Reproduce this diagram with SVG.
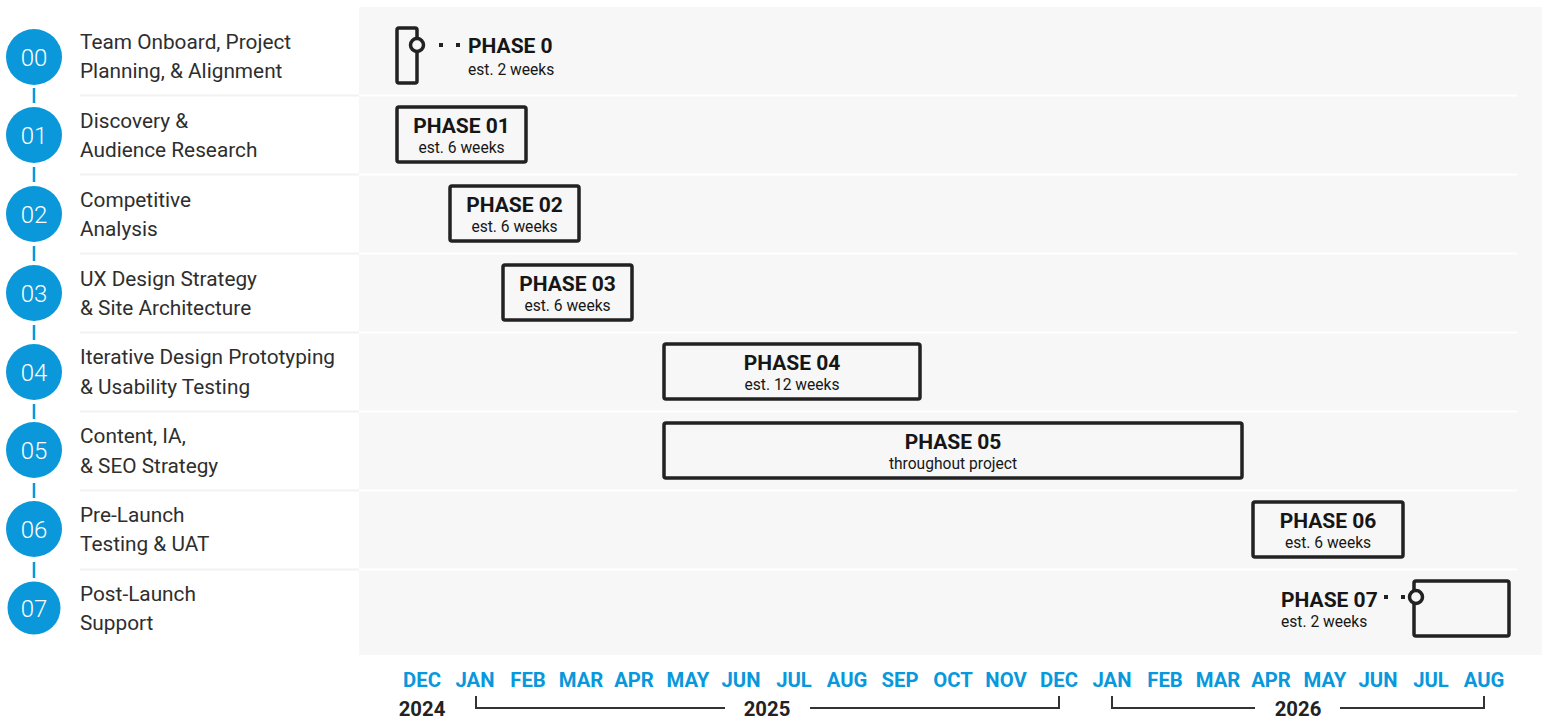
<svg xmlns="http://www.w3.org/2000/svg" width="1544" height="719" viewBox="0 0 1544 719">
  <style>
    .num { font-family: Roboto, "Liberation Sans", sans-serif; font-size: 24px; font-weight: 300; fill: #ffffff; text-anchor: middle; }
    .lbl { font-family: Roboto, "Liberation Sans", sans-serif; font-size: 20.8px; fill: #2e2e2e; }
    .dot { fill: #0a98da; }
    .link { stroke: #0a98da; stroke-width: 2.5; }
    .sep-l { stroke: #f2f2f2; stroke-width: 2; }
    .sep-r { stroke: #ffffff; stroke-width: 2; }
    .box { fill: #f7f7f7; stroke: #222222; stroke-width: 3.5; }
    .ph { font-family: Roboto, "Liberation Sans", sans-serif; font-size: 21px; font-weight: 700; fill: #161616; }
    .est { font-family: Roboto, "Liberation Sans", sans-serif; font-size: 15.6px; fill: #161616; }
    .mid { text-anchor: middle; }
    .ring { fill: #f7f7f7; stroke: #222222; stroke-width: 3.5; }
    .sq { fill: #222222; }
    .mon { font-family: Roboto, "Liberation Sans", sans-serif; font-size: 20.3px; font-weight: 700; fill: #0898dc; text-anchor: middle; }
    .yr { font-family: Roboto, "Liberation Sans", sans-serif; font-size: 20.3px; font-weight: 700; fill: #222222; text-anchor: middle; }
    .brk { fill: none; stroke: #333333; stroke-width: 2; }
  </style>

  <!-- chart panel -->
  <rect x="359" y="7" width="1183" height="648" fill="#f7f7f7"/>

  <!-- row separators -->
  <g id="separators">
    <line class="sep-l" x1="80" y1="95.5" x2="359" y2="95.5"/><line class="sep-r" x1="359" y1="95.5" x2="1517" y2="95.5"/>
    <line class="sep-l" x1="80" y1="174.5" x2="359" y2="174.5"/><line class="sep-r" x1="359" y1="174.5" x2="1517" y2="174.5"/>
    <line class="sep-l" x1="80" y1="253.5" x2="359" y2="253.5"/><line class="sep-r" x1="359" y1="253.5" x2="1517" y2="253.5"/>
    <line class="sep-l" x1="80" y1="332.5" x2="359" y2="332.5"/><line class="sep-r" x1="359" y1="332.5" x2="1517" y2="332.5"/>
    <line class="sep-l" x1="80" y1="411.5" x2="359" y2="411.5"/><line class="sep-r" x1="359" y1="411.5" x2="1517" y2="411.5"/>
    <line class="sep-l" x1="80" y1="490.5" x2="359" y2="490.5"/><line class="sep-r" x1="359" y1="490.5" x2="1517" y2="490.5"/>
    <line class="sep-l" x1="80" y1="569.5" x2="359" y2="569.5"/><line class="sep-r" x1="359" y1="569.5" x2="1517" y2="569.5"/>
  </g>

  <!-- step connectors -->
  <g id="connectors">
    <line class="link" x1="34" y1="88" x2="34" y2="103"/>
    <line class="link" x1="34" y1="167" x2="34" y2="182"/>
    <line class="link" x1="34" y1="246" x2="34" y2="261"/>
    <line class="link" x1="34" y1="325" x2="34" y2="340"/>
    <line class="link" x1="34" y1="404" x2="34" y2="419"/>
    <line class="link" x1="34" y1="483" x2="34" y2="498"/>
    <line class="link" x1="34" y1="562" x2="34" y2="578"/>
  </g>

  <!-- step list -->
  <g id="step-00"><circle class="dot" cx="34" cy="57" r="28"/><text class="num" x="34" y="65.5">00</text>
    <text class="lbl" x="80" y="49">Team Onboard, Project</text><text class="lbl" x="80" y="78">Planning, &amp; Alignment</text></g>
  <g id="step-01"><circle class="dot" cx="34" cy="135" r="28"/><text class="num" x="34" y="143.5">01</text>
    <text class="lbl" x="80" y="128">Discovery &amp;</text><text class="lbl" x="80" y="157">Audience Research</text></g>
  <g id="step-02"><circle class="dot" cx="34" cy="214" r="28"/><text class="num" x="34" y="222.5">02</text>
    <text class="lbl" x="80" y="207">Competitive</text><text class="lbl" x="80" y="236">Analysis</text></g>
  <g id="step-03"><circle class="dot" cx="34" cy="293" r="28"/><text class="num" x="34" y="301.5">03</text>
    <text class="lbl" x="80" y="286">UX Design Strategy</text><text class="lbl" x="80" y="315">&amp; Site Architecture</text></g>
  <g id="step-04"><circle class="dot" cx="34" cy="372" r="28"/><text class="num" x="34" y="380.5">04</text>
    <text class="lbl" x="80" y="364">Iterative Design Prototyping</text><text class="lbl" x="80" y="394">&amp; Usability Testing</text></g>
  <g id="step-05"><circle class="dot" cx="34" cy="450" r="28"/><text class="num" x="34" y="458.5">05</text>
    <text class="lbl" x="80" y="443">Content, IA,</text><text class="lbl" x="80" y="473">&amp; SEO Strategy</text></g>
  <g id="step-06"><circle class="dot" cx="34" cy="529" r="28"/><text class="num" x="34" y="537.5">06</text>
    <text class="lbl" x="80" y="522">Pre-Launch</text><text class="lbl" x="80" y="551">Testing &amp; UAT</text></g>
  <g id="step-07"><circle class="dot" cx="34" cy="608" r="26.5"/><text class="num" x="34" y="616.5">07</text>
    <text class="lbl" x="80" y="601">Post-Launch</text><text class="lbl" x="80" y="630">Support</text></g>

  <!-- phase bars -->
  <g id="phase-0">
    <rect class="box" x="397" y="28" width="20" height="55" rx="2"/>
    <circle class="ring" cx="417" cy="45" r="6.5"/>
    <rect class="sq" x="439" y="43" width="4" height="4"/>
    <rect class="sq" x="456" y="43" width="4" height="4"/>
    <text class="ph" x="468" y="53">PHASE 0</text>
    <text class="est" x="468" y="75">est. 2 weeks</text>
  </g>
  <g id="phase-01">
    <rect class="box" x="397" y="107" width="129" height="55" rx="2"/>
    <text class="ph mid" x="461.5" y="133">PHASE 01</text>
    <text class="est mid" x="461.5" y="153">est. 6 weeks</text>
  </g>
  <g id="phase-02">
    <rect class="box" x="450" y="186" width="129" height="55" rx="2"/>
    <text class="ph mid" x="514.5" y="212">PHASE 02</text>
    <text class="est mid" x="514.5" y="232">est. 6 weeks</text>
  </g>
  <g id="phase-03">
    <rect class="box" x="503" y="265" width="129" height="55" rx="2"/>
    <text class="ph mid" x="567.5" y="291">PHASE 03</text>
    <text class="est mid" x="567.5" y="311">est. 6 weeks</text>
  </g>
  <g id="phase-04">
    <rect class="box" x="664" y="344" width="256" height="55" rx="2"/>
    <text class="ph mid" x="792" y="370">PHASE 04</text>
    <text class="est mid" x="792" y="390">est. 12 weeks</text>
  </g>
  <g id="phase-05">
    <rect class="box" x="664" y="423" width="578" height="55" rx="2"/>
    <text class="ph mid" x="953" y="449">PHASE 05</text>
    <text class="est mid" x="953" y="469">throughout project</text>
  </g>
  <g id="phase-06">
    <rect class="box" x="1253" y="502" width="150" height="55" rx="2"/>
    <text class="ph mid" x="1328" y="528">PHASE 06</text>
    <text class="est mid" x="1328" y="548">est. 6 weeks</text>
  </g>
  <g id="phase-07">
    <rect class="box" x="1414" y="581" width="95" height="55" rx="2"/>
    <circle class="ring" cx="1416" cy="597" r="6.5"/>
    <rect class="sq" x="1384" y="595" width="4" height="4"/>
    <rect class="sq" x="1401" y="595" width="4" height="4"/>
    <text class="ph" x="1281" y="607">PHASE 07</text>
    <text class="est" x="1281" y="627">est. 2 weeks</text>
  </g>

  <!-- month axis -->
  <g id="months">
    <text class="mon" x="422" y="687">DEC</text>
    <text class="mon" x="475" y="687">JAN</text>
    <text class="mon" x="528" y="687">FEB</text>
    <text class="mon" x="581" y="687">MAR</text>
    <text class="mon" x="634" y="687">APR</text>
    <text class="mon" x="688" y="687">MAY</text>
    <text class="mon" x="741" y="687">JUN</text>
    <text class="mon" x="794" y="687">JUL</text>
    <text class="mon" x="847" y="687">AUG</text>
    <text class="mon" x="900" y="687">SEP</text>
    <text class="mon" x="953" y="687">OCT</text>
    <text class="mon" x="1006" y="687">NOV</text>
    <text class="mon" x="1059" y="687">DEC</text>
    <text class="mon" x="1112" y="687">JAN</text>
    <text class="mon" x="1165" y="687">FEB</text>
    <text class="mon" x="1218" y="687">MAR</text>
    <text class="mon" x="1271" y="687">APR</text>
    <text class="mon" x="1325" y="687">MAY</text>
    <text class="mon" x="1378" y="687">JUN</text>
    <text class="mon" x="1431" y="687">JUL</text>
    <text class="mon" x="1484" y="687">AUG</text>
  </g>

  <!-- year brackets -->
  <g id="years">
    <text class="yr" x="422" y="716">2024</text>
    <path class="brk" d="M476 696 V708 H725"/>
    <text class="yr" x="767" y="716">2025</text>
    <path class="brk" d="M810 708 H1059 V696"/>
    <path class="brk" d="M1112 696 V708 H1255"/>
    <text class="yr" x="1298" y="716">2026</text>
    <path class="brk" d="M1340 708 H1484 V696"/>
  </g>
</svg>
